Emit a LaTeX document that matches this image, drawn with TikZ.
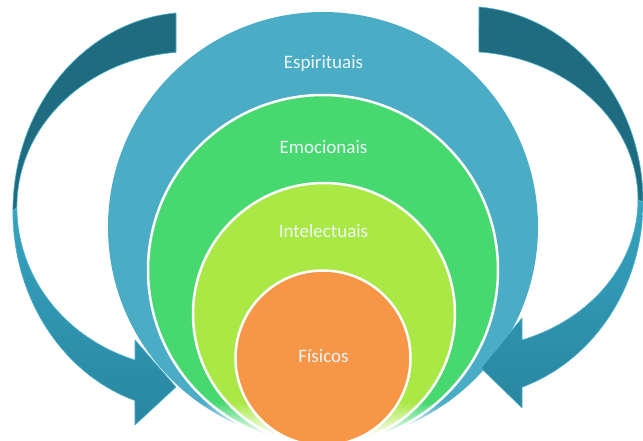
\documentclass[tikz,border=0pt]{standalone}
\usepackage{fontspec}
\setmainfont{Carlito}
\usetikzlibrary{fadings}
\definecolor{ringblue}{HTML}{4BACC6}
\definecolor{ringgreen}{HTML}{47D870}
\definecolor{ringlime}{HTML}{AAE845}
\definecolor{ringorange}{HTML}{F79646}
\definecolor{arrdark}{HTML}{1F6B7F}
\definecolor{arrtop}{HTML}{37A3C0}
\definecolor{arrbot}{HTML}{2986A0}
\definecolor{arredge}{HTML}{4FB3CC}
\definecolor{labeltext}{HTML}{EEF6F8}
\tikzfading[name=fadedown, top color=transparent!100, bottom color=transparent!0]
\begin{document}
\begin{tikzpicture}[x=1pt,y=-1pt,
  ring/.style={circle, inner sep=0pt, draw=white, line width=2.5pt},
  lbl/.style={text=labeltext, font=\fontsize{19}{22}\selectfont, inner sep=0pt, anchor=base},
  darkpart/.style={fill=arrdark, draw=arredge, line width=0.6pt, line join=round},
  lightpart/.style={top color=arrtop, bottom color=arrbot, draw=arredge, line width=0.6pt, line join=round}]
\useasboundingbox (0,0) rectangle (643,441);
\clip (0,0) rectangle (643,441);
% nested circles
\node[ring, draw=none, fill=ringblue, minimum size=430pt] (spir) at (323,227) {};
\node[ring, fill=ringgreen, minimum size=350pt] (emoc) at (323,270) {};
\node[ring, fill=ringlime, minimum size=262pt] (inte) at (324,314) {};
% soft fade of the outer rings at the bottom
\fill[white, path fading=fadedown] (150,402) rectangle (500,436);
\fill[white] (150,436) rectangle (500,441);
\node[ring, fill=ringorange, minimum size=175pt] (fisi) at (323,358) {};
% labels
\node[lbl] (l1) at (323.5,69) {Espirituais};
\node[lbl] (l2) at (323.5,154) {Emocionais};
\node[lbl] (l3) at (323.5,237) {Intelectuais};
\node[lbl] (l4) at (323.5,362.5) {Físicos};
% left curved arrow
\path[darkpart] (176,13) arc[start angle=265.5, end angle=180, x radius=177, y radius=199]
  -- (16.9,206.9) arc[start angle=180, end angle=265.4, x radius=173, y radius=155] -- cycle;
\path[lightpart] (12.9,211.4) arc[start angle=180, end angle=108.1, x radius=177, y radius=199]
  -- (135,425) -- (176,387) -- (135,340) -- (135,360)
  arc[start angle=108.5, end angle=180, x radius=173, y radius=161.4] -- cycle;
% right curved arrow
\path[darkpart] (479,7) arc[start angle=-85.5, end angle=0, x radius=178, y radius=195.5]
  -- (638,199.9) arc[start angle=0, end angle=-85.4, x radius=173, y radius=148.4] -- cycle;
\path[lightpart] (643,202) arc[start angle=0, end angle=71.3, x radius=178, y radius=195.5]
  -- (522,408) -- (481,368) -- (522,318) -- (522,340)
  arc[start angle=70.76, end angle=0, x radius=173, y radius=148.4] -- cycle;
\end{tikzpicture}
\end{document}
